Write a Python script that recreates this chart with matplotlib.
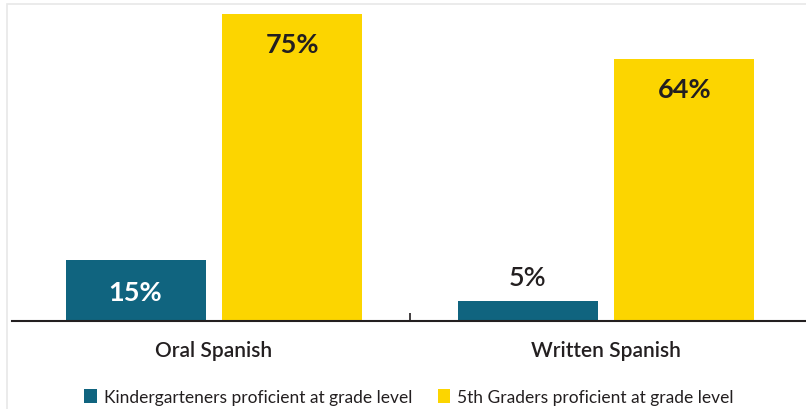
import matplotlib
matplotlib.use('Agg')
import matplotlib.pyplot as plt
from matplotlib.patches import Rectangle
import numpy as np

plt.rcParams['font.family'] = ['Lato', 'DejaVu Sans']

categories = ["Oral Spanish", "Written Spanish"]
kinder = [15, 5]
fifth = [75, 64]
series_names = ["Kindergarteners proficient at grade level",
                "5th Graders proficient at grade level"]

teal = '#10647f'
yellow = '#fcd500'
dark = '#231f20'

fig = plt.figure(figsize=(8.06, 4.10), dpi=100)
# light frame around the chart (only top and left edges visible)
fig.patches.append(Rectangle((7 / 806, -0.1), 1.2, 1.1 - 5 / 410, transform=fig.transFigure,
                             fill=False, edgecolor='#e8e8e8', linewidth=1.2))
ax = fig.add_axes([12 / 806, 88 / 410, 794 / 806, 317 / 410])

x = np.arange(len(categories))
w = 0.357
b1 = ax.bar(x - 0.2, kinder, w, color=teal, label=series_names[0])
b2 = ax.bar(x + 0.2, fifth, w, color=yellow, label=series_names[1])

# value labels
for rect, v in zip(b1, kinder):
    cx = rect.get_x() + rect.get_width() / 2
    if v >= 10:
        ax.text(cx, v / 2 - 0.5, f"{v}%", ha='center', va='center', color='white',
                fontsize=19.5, fontweight='bold')
    else:
        ax.text(cx, v + 2.5, f"{v}%", ha='center', va='bottom', color=dark,
                fontsize=19.5, fontweight='semibold')
for rect, v in zip(b2, fifth):
    cx = rect.get_x() + rect.get_width() / 2
    ax.text(cx, v - 7.3, f"{v}%", ha='center', va='center', color=dark,
            fontsize=19.5, fontweight='bold')

ax.set_xlim(-0.515, 1.51)
ax.set_ylim(0, 77.5)
for s in ['top', 'right', 'left']:
    ax.spines[s].set_visible(False)
ax.spines['bottom'].set_linewidth(1.5)
ax.spines['bottom'].set_color(dark)
ax.set_yticks([])
ax.set_xticks(x)
ax.set_xticklabels(categories, fontsize=15, color=dark, fontweight='semibold')
ax.tick_params(axis='x', length=0, pad=14)
ax.set_xticks([0.5], minor=True)
ax.tick_params(axis='x', which='minor', direction='in', length=6, width=1.2, color=dark)

ax.legend(loc='upper center', bbox_to_anchor=(0.5, -0.165), ncol=2, frameon=False,
          fontsize=12.5, handlelength=0.7, handleheight=0.9, handletextpad=0.4,
          columnspacing=1.5, labelcolor=dark)

fig.savefig('out.png', dpi=100)
